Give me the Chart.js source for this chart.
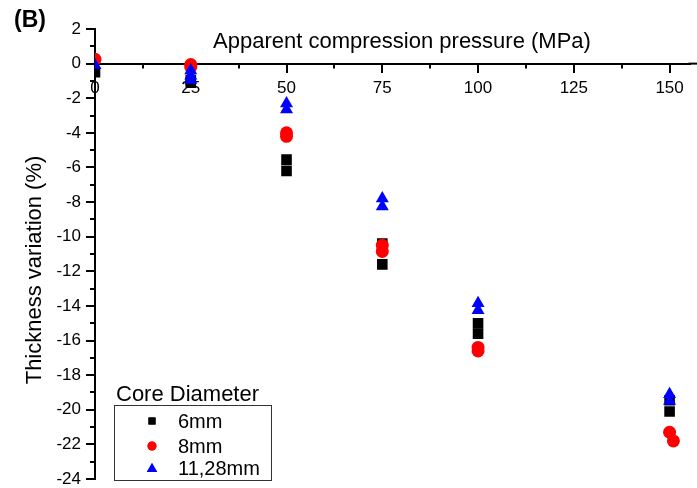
<!DOCTYPE html>
<html>
<head>
<meta charset="utf-8">
<script src="https://cdn.jsdelivr.net/npm/chart.js@4"></script>
<style>
html,body{margin:0;padding:0;background:#fff;}
#wrap{width:697px;height:488px;position:relative;}
</style>
</head>
<body>
<div id="wrap"><canvas id="c" width="697" height="488"></canvas></div>
<script>
const seriesNames = ['6mm', '8mm', '11,28mm'];
const x6  = [0, 25, 25, 50, 50, 75, 75, 100, 100, 150, 150];
const y6  = [-0.5, -0.95, -1.1, -5.55, -6.2, -10.4, -11.6, -15.0, -15.6, -19.45, -20.1];
const x8  = [0, 25, 25, 50, 50, 75, 75, 100, 100, 150, 151];
const y8  = [0.25, -0.05, -0.2, -4.0, -4.2, -10.5, -10.85, -16.4, -16.6, -21.3, -21.8];
const x11 = [0, 25, 25, 25, 50, 50, 75, 75, 100, 100, 150, 150];
const y11 = [-0.1, -0.4, -0.7, -0.95, -2.3, -2.65, -7.8, -8.25, -13.85, -14.25, -19.1, -19.5];
const xTicks = [0, 25, 50, 75, 100, 125, 150];
const yTicks = [-24, -22, -20, -18, -16, -14, -12, -10, -8, -6, -4, -2, 0, 2];

const FONT = 'Liberation Sans, Arial, sans-serif';
const pts = (xs, ys) => xs.map((x, i) => ({x: x, y: ys[i]}));

const extras = {
  id: 'extras',
  afterDraw(chart) {
    const ctx = chart.ctx;
    const xs = chart.scales.x, ys = chart.scales.y;
    ctx.save();
    ctx.strokeStyle = '#000';
    ctx.lineWidth = 2;
    const y0 = ys.getPixelForValue(0);
    // axis line continues to the picture edge
    ctx.beginPath(); ctx.moveTo(chart.chartArea.right - 1, y0); ctx.lineTo(697, y0); ctx.stroke();
    for (let v = 12.5; v <= xs.max; v += 25) {
      const px = Math.round(xs.getPixelForValue(v));
      ctx.beginPath(); ctx.moveTo(px, y0); ctx.lineTo(px, y0 + 5); ctx.stroke();
    }
    const xl = xs.getPixelForValue(0);
    for (let v = -23; v <= 2; v += 2) {
      const py = Math.round(ys.getPixelForValue(v));
      ctx.beginPath(); ctx.moveTo(xl, py); ctx.lineTo(xl - 5, py); ctx.stroke();
    }
    ctx.fillStyle = '#000';
    ctx.font = 'bold 23px ' + FONT;
    ctx.textAlign = 'left'; ctx.textBaseline = 'alphabetic';
    ctx.fillText('(B)', 14, 27);
    ctx.font = '22px ' + FONT;
    ctx.textAlign = 'center';
    ctx.fillText('Apparent compression pressure (MPa)', 402, 48);
    ctx.save();
    ctx.translate(41, 270);
    ctx.rotate(-Math.PI / 2);
    ctx.fillText('Thickness variation (%)', 0, 0);
    ctx.restore();
    ctx.textAlign = 'left';
    ctx.fillText('Core Diameter', 116, 401);
    ctx.fillStyle = '#fff';
    ctx.fillRect(114, 405, 158, 76);
    ctx.lineWidth = 1;
    ctx.strokeStyle = '#333';
    ctx.strokeRect(114.5, 405.5, 157, 75);
    const rows = [421, 446, 468];
    const styles = ['rect', 'circle', 'triangle'];
    const cols = ['#000000', '#ff0000', '#0000ff'];
    const rads = [5, 4.5, 6];
    ctx.font = '20px ' + FONT;
    ctx.textBaseline = 'middle';
    for (let i = 0; i < 3; i++) {
      ctx.fillStyle = cols[i];
      ctx.strokeStyle = cols[i];
      Chart.helpers.drawPoint(ctx, {pointStyle: styles[i], radius: rads[i], borderWidth: 0, rotation: 0}, 152, rows[i] + (i === 2 ? 1 : 0));
      ctx.fill();
      ctx.fillStyle = '#000';
      ctx.fillText(seriesNames[i], 178, rows[i] + 1);
    }
    ctx.restore();
  }
};

new Chart(document.getElementById('c'), {
  type: 'scatter',
  data: {
    datasets: [
      {label: seriesNames[0], data: pts(x6, y6), pointStyle: 'rect', pointRadius: 7.5, backgroundColor: '#000', borderColor: '#000', borderWidth: 0, order: 3},
      {label: seriesNames[1], data: pts(x8, y8), pointStyle: 'circle', pointRadius: 6.5, backgroundColor: '#ff0000', borderColor: '#ff0000', borderWidth: 0, order: 2},
      {label: seriesNames[2], data: pts(x11, y11), pointStyle: 'triangle', pointRadius: 7.5, backgroundColor: '#0000ff', borderColor: '#0000ff', borderWidth: 0, order: 1}
    ]
  },
  options: {
    responsive: false,
    animation: false,
    devicePixelRatio: 1,
    layout: {padding: {top: 29, right: 0, bottom: 9, left: 0}},
    plugins: {legend: {display: false}, tooltip: {enabled: false}},
    scales: {
      x: {
        type: 'linear',
        position: {y: 0},
        min: 0, max: 155.2,
        afterBuildTicks: (s) => { s.ticks = xTicks.map(v => ({value: v})); },
        grid: {display: true, drawOnChartArea: false, drawTicks: true, tickLength: 8, color: '#000', lineWidth: 2},
        border: {display: true, color: '#000', width: 2},
        ticks: {color: '#000', font: {family: FONT, size: 17}, padding: 6, maxRotation: 0, autoSkip: false, callback: (v) => String(v)}
      },
      y: {
        type: 'linear',
        position: 'left',
        min: -24, max: 2,
        afterBuildTicks: (s) => { s.ticks = yTicks.map(v => ({value: v})); },
        afterFit: (s) => { s.width = 95; s.paddingTop = 0; s.paddingBottom = 0; },
        grid: {display: true, drawOnChartArea: false, drawTicks: true, tickLength: 9, color: '#000', lineWidth: 2},
        border: {display: true, color: '#000', width: 2},
        ticks: {color: '#000', font: {family: FONT, size: 17}, padding: 5, autoSkip: false, callback: (v) => String(v)}
      }
    }
  },
  plugins: [extras]
});
</script>
</body>
</html>
